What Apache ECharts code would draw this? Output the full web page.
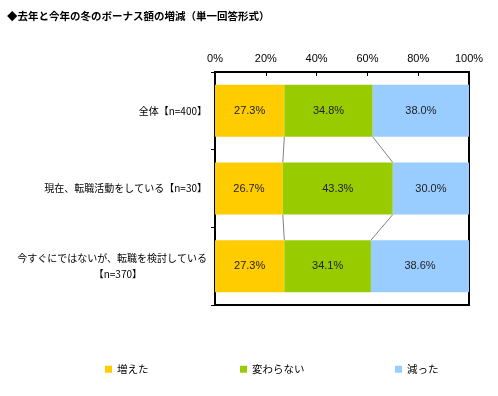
<!DOCTYPE html>
<html><head><meta charset="utf-8">
<script src="https://cdn.jsdelivr.net/npm/echarts@6/dist/echarts.min.js"></script>
<style>html,body{margin:0;padding:0;background:#fff}#c{width:498px;height:396px}</style>
</head><body><div id="c"></div>
<script>
const titleText = '◆去年と今年の冬のボーナス額の増減（単一回答形式）';
const categories = ['全体【n=400】', '現在、転職活動をしている【n=30】', '今すぐにではないが、転職を検討している\n【n=370】　　　　　　　'];
const seriesNames = ['増えた', '変わらない', '減った'];
const increased = [27.3, 26.7, 27.3];
const unchanged = [34.8, 43.3, 34.1];
const decreased = [38.0, 30.0, 38.6];
const xTicks = [0, 20, 40, 60, 80, 100];
const colors = ['#FFCC00', '#99CC00', '#99CCFF'];

const values = [increased, unchanged, decreased];
const connectors = [];
for (let r = 0; r < categories.length - 1; r++) {
  const b1a = increased[r], b2a = increased[r] + unchanged[r];
  const b1b = increased[r + 1], b2b = increased[r + 1] + unchanged[r + 1];
  connectors.push([b1a, r, b1b, r + 1]);
  connectors.push([b2a, r, b2b, r + 1]);
}
const barRatio = 0.67;

const chart = echarts.init(document.getElementById('c'));
const series = seriesNames.map((n, i) => ({
  name: n, type: 'bar', stack: 'total', barCategoryGap: '33%',
  itemStyle: { color: colors[i] },
  label: { show: true, position: 'inside', formatter: p => p.value.toFixed(1) + '%',
    color: '#222', fontSize: 11, fontFamily: 'Liberation Sans, Arial' },
  data: values[i]
}));
series.push({
  type: 'custom', silent: true, z: 1,
  encode: { x: [0, 2], y: [1, 3] },
  data: connectors,
  renderItem: function (params, api) {
    const p1 = api.coord([api.value(0), api.value(1)]);
    const p2 = api.coord([api.value(2), api.value(3)]);
    const h = api.size([0, 1])[1] * barRatio / 2;
    return { type: 'line', shape: { x1: p1[0], y1: p1[1] + h, x2: p2[0], y2: p2[1] - h },
      style: { stroke: '#808080', lineWidth: 1 } };
  }
});
const legendPos = [100, 235, 390];
chart.setOption({
  animation: false,
  title: { text: titleText, left: 2, top: 6,
    textStyle: { fontSize: 10.5, fontWeight: 'bold', color: '#000', fontFamily: 'Noto Sans CJK JP' } },
  legend: seriesNames.map((n, i) => ({
    data: [n], left: legendPos[i], top: 359, icon: 'rect', itemWidth: 7, itemHeight: 7, itemGap: 4,
    textStyle: { fontSize: 10.5, color: '#000', fontFamily: 'Noto Sans CJK JP' }
  })),
  grid: { left: 215, right: 29, top: 72, bottom: 91, show: true, borderColor: '#000000', borderWidth: 2 },
  xAxis: { type: 'value', position: 'top', min: 0, max: 100, interval: 20,
    axisLine: { show: true, onZero: false, lineStyle: { color: '#000' } },
    axisTick: { show: true, inside: true, length: 4, lineStyle: { color: '#000' } },
    splitLine: { show: false },
    axisLabel: { formatter: v => xTicks.includes(v) ? v + '%' : '', color: '#000', fontSize: 11, margin: 8,
      fontFamily: 'Liberation Sans, Arial' } },
  yAxis: { type: 'category', inverse: true, data: categories,
    axisLine: { show: true, onZero: false, lineStyle: { color: '#000' } },
    axisTick: { show: true, length: 4, lineStyle: { color: '#000' } },
    axisLabel: { color: '#000', fontSize: 10, margin: 8, lineHeight: 16, fontFamily: 'Noto Sans CJK JP' } },
  series: series
});
</script></body></html>
